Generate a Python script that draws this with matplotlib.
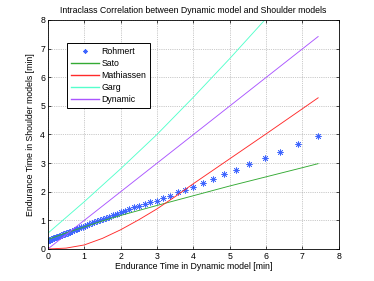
import numpy as np
import matplotlib
matplotlib.use('Agg')
from matplotlib import pyplot as plt

plt.rcParams['font.family'] = ['Liberation Sans', 'DejaVu Sans']

# Rohmert points
rohmert_x = [0.0, 0.02, 0.04, 0.07, 0.10, 0.14, 0.18, 0.22, 0.26, 0.30, 0.34,
             0.38, 0.42, 0.46, 0.50, 0.54, 0.58, 0.62, 0.66, 0.71, 0.76, 0.81,
             0.86, 0.91, 0.96, 1.02, 1.08, 1.14, 1.21, 1.28, 1.35, 1.43, 1.51,
             1.60, 1.69, 1.79, 1.89, 2.00, 2.12, 2.24, 2.37, 2.51, 2.66, 2.82,
             2.99, 3.17, 3.37, 3.58, 3.78, 3.99, 4.27, 4.54, 4.84, 5.18, 5.53,
             5.96, 6.39, 6.88, 7.43]
rohmert_y = [0.29, 0.30, 0.31, 0.33, 0.35, 0.37, 0.39, 0.41, 0.43, 0.45, 0.47,
             0.49, 0.51, 0.53, 0.55, 0.57, 0.59, 0.61, 0.63, 0.66, 0.68, 0.71,
             0.73, 0.76, 0.78, 0.81, 0.84, 0.87, 0.91, 0.94, 0.97, 1.01, 1.05,
             1.09, 1.13, 1.18, 1.23, 1.28, 1.34, 1.39, 1.45, 1.51, 1.57, 1.63,
             1.69, 1.77, 1.86, 1.98, 2.07, 2.18, 2.32, 2.46, 2.61, 2.77, 2.97,
             3.18, 3.40, 3.67, 3.93]

sato_x = [0.0, 0.5, 1.0, 1.5, 2.0, 3.0, 4.0, 5.0, 6.0, 7.0, 7.43]
sato_y = [0.33, 0.56, 0.77, 0.98, 1.17, 1.52, 1.86, 2.20, 2.52, 2.84, 2.98]

math_x = [0.0, 0.5, 1.0, 1.5, 2.0, 2.5, 3.0, 3.5, 4.0, 5.0, 6.0, 7.0, 7.43]
math_y = [0.0, 0.03, 0.14, 0.37, 0.67, 1.02, 1.40, 1.83, 2.28, 3.15, 4.02, 4.90, 5.28]

garg_x = [0.0, 1.0, 2.0, 3.0, 4.0, 5.0, 6.0]
garg_y = [0.55, 1.65, 2.80, 4.00, 5.30, 6.65, 8.05]

dyn_x = [0.0, 7.43]
dyn_y = [0.0, 7.42]

fs = 6.3

fig = plt.figure(figsize=(3.74, 2.81), dpi=100)
ax = fig.add_axes([0.128, 0.114, 0.778, 0.815])

ax.plot(rohmert_x, rohmert_y, linestyle='none', marker=(8, 2, 0), ms=4.4,
        mew=0.5, color='#3f66ff', label='Rohmert')
ax.plot(sato_x, sato_y, color='#33aa33', lw=0.65, label='Sato')
ax.plot(math_x, math_y, color='#ff2a2a', lw=0.65, label='Mathiassen')
ax.plot(garg_x, garg_y, color='#55ffcc', lw=0.65, label='Garg')
ax.plot(dyn_x, dyn_y, color='#aa55ff', lw=0.65, label='Dynamic')

ax.set_xlim(0, 8)
ax.set_ylim(0, 8)
ax.set_xticks(range(0, 9))
ax.set_yticks(range(0, 9))
ax.grid(True, linestyle=':', color='#999999', lw=0.5)
ax.tick_params(direction='in', top=True, right=True, labelsize=fs, length=2.5,
               width=0.5, pad=2)
for s in ax.spines.values():
    s.set_linewidth(0.6)

ax.set_title('Intraclass Correlation between Dynamic model and Shoulder models',
             fontsize=fs, pad=5)
ax.set_xlabel('Endurance Time in Dynamic model [min]', fontsize=fs, labelpad=1)
ax.set_ylabel('Endurance Time in Shoulder models [min]', fontsize=fs, labelpad=4)

leg = ax.legend(loc='upper left', bbox_to_anchor=(0.179, 0.847),
                bbox_transform=fig.transFigure, fontsize=fs, fancybox=False,
                framealpha=1, edgecolor='black', handlelength=3.2,
                labelspacing=0.35, borderpad=0.45, handletextpad=0.3,
                borderaxespad=0)
leg.get_frame().set_linewidth(0.7)
leg.get_lines()[0].set_markersize(3.2)
for h in leg.get_lines()[1:]:
    h.set_linewidth(1.0)

fig.savefig('out.png', dpi=100)
